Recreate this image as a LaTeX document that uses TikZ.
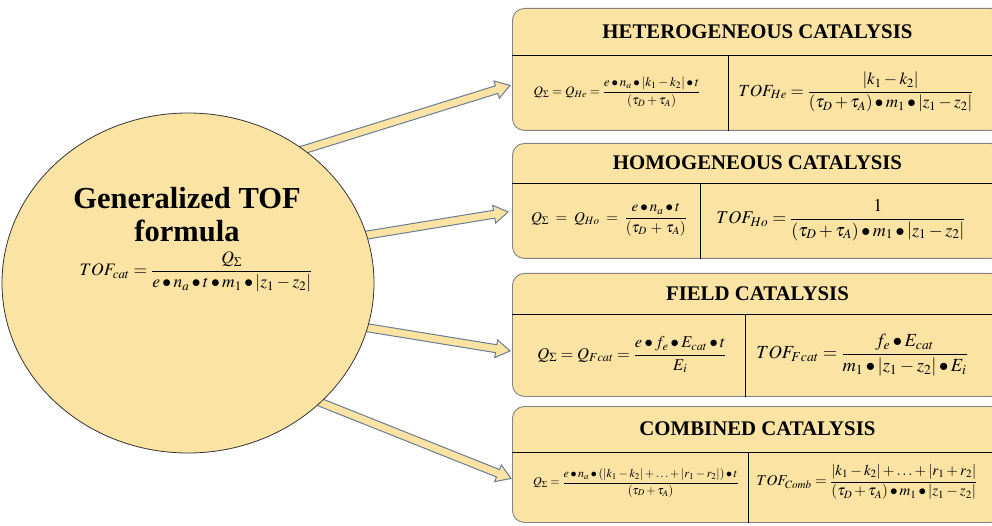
\documentclass[tikz,border=0pt]{standalone}
\usepackage{amsmath}
\usepackage{mathptmx}
\usepackage{fontspec}
\setmainfont{Liberation Serif}
\usepackage{xcolor}
\usepackage{tikz}
\usetikzlibrary{shapes.geometric,calc,positioning}

\definecolor{tofyellow}{RGB}{251,227,163}
\definecolor{boxgray}{RGB}{130,130,130}
\definecolor{arrowblue}{RGB}{105,125,148}

\pgfdeclarelayer{bg}
\pgfsetlayers{bg,main}

\newcommand{\blockarrow}[2]{%
  \coordinate (ba-base) at ($(#2)!14pt!(#1)$);
  \filldraw[blockarrow] ($(#1)!4pt!90:(#2)$) -- ($(ba-base)!4pt!90:(#2)$)
    -- ($(ba-base)!9pt!90:(#2)$) -- (#2) -- ($(ba-base)!9pt!-90:(#2)$)
    -- ($(ba-base)!4pt!-90:(#2)$) -- ($(#1)!4pt!-90:(#2)$) -- cycle;}

\begin{document}
\begin{tikzpicture}[
    x=1pt, y=-1pt,
    catbox/.style={rectangle, rounded corners=12pt, draw=boxgray, line width=0.9pt,
                   fill=tofyellow, minimum width=490pt, inner sep=0pt, anchor=north west},
    cattitle/.style={rectangle, minimum width=490pt, inner sep=0pt, anchor=north,
                     font=\bfseries\fontsize{20.8}{24}\selectfont},
    sepline/.style={line width=1.6pt, black},
    formula/.style={inner sep=0pt},
    blockarrow/.style={fill=tofyellow, draw=arrowblue, line width=1pt, line join=miter}
]
\useasboundingbox (0,0) rectangle (992,526);
\clip (0,0) rectangle (992,526);
\begin{pgfonlayer}{bg}
\fill[white] (0,0) rectangle (992,526);
\end{pgfonlayer}

\node[ellipse, draw=black!80, line width=0.8pt, fill=tofyellow, minimum width=372pt,
      minimum height=340pt, inner sep=0pt] (gen) at (188,283) {};
\node[font=\bfseries\fontsize{30.5}{33}\selectfont, align=center] (gen-t) at (187,215)
    {Generalized TOF\\formula};
\node[formula, font=\fontsize{17.5}{20}\selectfont] (gen-f) at (196,272)
    {$TOF_{cat} = \dfrac{Q_\Sigma}{e \bullet n_a \bullet t \bullet m_1 \bullet \left|z_1 - z_2\right|}$};

\node[catbox, minimum height=122pt] (he) at (512,8) {};
\node[cattitle, minimum height=47pt] (he-t) at (he.north) {HETEROGENEOUS CATALYSIS};
\draw[sepline] (he-t.south west) -- (he-t.south east);
\draw[sepline] ([xshift=-29pt]he-t.south) -- ([xshift=-29pt]he.south);
\node[formula, font=\fontsize{13}{15}\selectfont] (he-q) at (617,92)
    {$Q_\Sigma = Q_{He} = \dfrac{e \bullet n_a \bullet \left|k_1 - k_2\right| \bullet t}{(\tau_D + \tau_A)}$};
\node[formula, font=\fontsize{17}{20}\selectfont] (he-f) at (856,92)
    {$TOF_{He} = \dfrac{\left|k_1 - k_2\right|}{(\tau_D + \tau_A) \bullet m_1 \bullet \left|z_1 - z_2\right|}$};

\node[catbox, minimum height=115pt] (ho) at (512,143) {};
\node[cattitle, minimum height=40pt] (ho-t) at (ho.north) {HOMOGENEOUS CATALYSIS};
\draw[sepline] (ho-t.south west) -- (ho-t.south east);
\draw[sepline] ([xshift=-57pt]ho-t.south) -- ([xshift=-57pt]ho.south);
\node[formula, font=\fontsize{15}{18}\selectfont] (ho-q) at (609,220)
    {$Q_\Sigma \;=\; Q_{Ho} \;=\; \dfrac{e \bullet n_a \bullet t}{(\tau_D \,+\, \tau_A)}$};
\node[formula, font=\fontsize{18}{21}\selectfont] (ho-f) at (841,220)
    {$TOF_{Ho} = \dfrac{1}{(\tau_D + \tau_A) \bullet m_1 \bullet \left|z_1 - z_2\right|}$};

\node[catbox, minimum height=123pt] (fc) at (512,273) {};
\node[cattitle, minimum height=41pt] (fc-t) at (fc.north) {FIELD CATALYSIS};
\draw[sepline] (fc-t.south west) -- (fc-t.south east);
\draw[sepline] ([xshift=-12pt]fc-t.south) -- ([xshift=-12pt]fc.south);
\node[formula, font=\fontsize{16.5}{19}\selectfont] (fc-q) at (632,355)
    {$Q_\Sigma = Q_{Fcat} = \dfrac{e \bullet f_e \bullet E_{cat} \bullet t}{E_i}$};
\node[formula, font=\fontsize{18.5}{22}\selectfont] (fc-f) at (862,355)
    {$TOF_{Fcat} = \dfrac{f_e \bullet E_{cat}}{m_1 \bullet \left|z_1 - z_2\right| \bullet E_i}$};

\node[catbox, minimum height=116pt] (co) at (512,406) {};
\node[cattitle, minimum height=46pt] (co-t) at (co.north) {COMBINED CATALYSIS};
\draw[sepline] (co-t.south west) -- (co-t.south east);
\draw[sepline] ([xshift=-9pt]co-t.south) -- ([xshift=-9pt]co.south);
\node[formula, font=\fontsize{12}{14}\selectfont] (co-q) at (636,483)
    {$Q_\Sigma = \dfrac{e \bullet n_a \bullet (\left|k_1 - k_2\right| + \ldots + \left|r_1 - r_2\right|) \bullet t}{(\tau_D + \tau_A)}$};
\node[formula, font=\fontsize{15}{18}\selectfont] (co-f) at (867,482)
    {$TOF_{Comb} = \dfrac{\left|k_1 - k_2\right| + \ldots + \left|r_1 + r_2\right|}{(\tau_D + \tau_A) \bullet m_1 \bullet \left|z_1 - z_2\right|}$};

\coordinate (he-in) at ($(he.west)+(-2,16)$);
\coordinate (ho-in) at ($(ho.west)+(-4,11)$);
\coordinate (fc-in) at ($(fc.west)+(-2,16)$);
\coordinate (co-in) at ($(co.west)+(-1,14)$);
\coordinate (he-out) at ($(gen.49)!-10pt!(he-in)$);
\coordinate (ho-out) at ($(gen.15)!-10pt!(ho-in)$);
\coordinate (fc-out) at ($(gen.-14)!-10pt!(fc-in)$);
\coordinate (co-out) at ($(gen.-42)!-10pt!(co-in)$);
\begin{pgfonlayer}{bg}
\blockarrow{he-out}{he-in}
\blockarrow{ho-out}{ho-in}
\blockarrow{fc-out}{fc-in}
\blockarrow{co-out}{co-in}
\end{pgfonlayer}
\end{tikzpicture}
\end{document}
